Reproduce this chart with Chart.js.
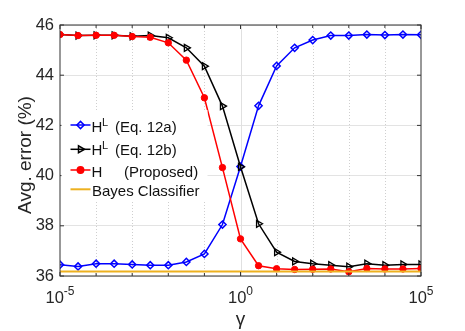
<!DOCTYPE html>
<html><head><meta charset="utf-8">
<script src="https://cdn.jsdelivr.net/npm/chart.js@4/dist/chart.umd.min.js"></script>
<style>html,body{margin:0;padding:0;background:#fff;}canvas{display:block;}</style>
</head><body>
<canvas id="c" width="465" height="331"></canvas>
<script>
// ---- data ----
const gamma = [1e-5, 3.1623e-5, 1e-4, 3.1623e-4, 1e-3, 3.1623e-3, 1e-2, 3.1623e-2, 1e-1, 3.1623e-1,
               1, 3.1623, 10, 31.623, 100, 316.23, 1e3, 3162.3, 1e4, 31623, 1e5];
const errEq12a = [36.45, 36.38, 36.49, 36.49, 36.46, 36.43, 36.43, 36.56, 36.88, 38.05,
                  40.36, 42.78, 44.37, 45.09, 45.40, 45.58, 45.58, 45.62, 45.60, 45.62, 45.61];
const errEq12b = [45.62, 45.58, 45.59, 45.59, 45.55, 45.58, 45.49, 45.09, 44.36, 42.77,
                  40.35, 38.08, 36.95, 36.58, 36.49, 36.43, 36.37, 36.49, 36.43, 36.46, 36.46];
const errProposed = [45.62, 45.58, 45.59, 45.59, 45.54, 45.51, 45.29, 44.60, 43.10, 40.32,
                     37.48, 36.41, 36.29, 36.26, 36.27, 36.28, 36.17, 36.30, 36.28, 36.28, 36.30];
const bayesGamma = [1e-5, 1e5];
const errBayes = [36.18, 36.18];
const yTickValues = [36, 38, 40, 42, 44, 46];
const xMajorTicks = [1e-5, 1, 1e5];
const xMajorExps = ['-5', '0', '5'];
const xMinorTicks = [1e-4, 1e-3, 1e-2, 1e-1, 1e1, 1e2, 1e3, 1e4];
const yTitle = 'Avg. error (%)';
const xTitle = 'γ';

const FONT = '"Liberation Sans", Arial, Helvetica, sans-serif';
const TXT = '#262626';
const pts = (xs, ys) => xs.map((v, i) => ({x: v, y: ys[i]}));

const decorations = {
  id: 'decorations',
  beforeDatasetsDraw(chart) {
    const {ctx, chartArea: a, scales: {x}} = chart;
    ctx.save();
    ctx.lineWidth = 1;
    xMinorTicks.forEach(v => {
      const px = Math.round(x.getPixelForValue(v)) + 0.5;
      ctx.strokeStyle = '#cfcfcf';
      ctx.setLineDash([1, 2]);
      ctx.beginPath(); ctx.moveTo(px, a.top); ctx.lineTo(px, a.bottom); ctx.stroke();
    });
    ctx.setLineDash([]);
    ctx.strokeStyle = '#e0e0e0';
    const p0 = Math.round(x.getPixelForValue(1)) + 0.5;
    ctx.beginPath(); ctx.moveTo(p0, a.top); ctx.lineTo(p0, a.bottom); ctx.stroke();
    ctx.restore();
  },
  afterDatasetsDraw(chart) {
    const {ctx, chartArea: a, scales: {x, y}} = chart;
    ctx.save();
    // axes box
    ctx.strokeStyle = '#333';
    ctx.lineWidth = 1;
    ctx.strokeRect(a.left, a.top, a.right - a.left, a.bottom - a.top);
    // inward ticks
    ctx.beginPath();
    yTickValues.forEach(v => {
      const py = y.getPixelForValue(v);
      ctx.moveTo(a.left, py); ctx.lineTo(a.left + 4, py);
      ctx.moveTo(a.right, py); ctx.lineTo(a.right - 4, py);
    });
    xMajorTicks.concat(xMinorTicks).forEach(v => {
      const px = x.getPixelForValue(v);
      const len = xMajorTicks.includes(v) ? 4 : 3;
      ctx.moveTo(px, a.bottom); ctx.lineTo(px, a.bottom - len);
      ctx.moveTo(px, a.top); ctx.lineTo(px, a.top + len);
    });
    ctx.stroke();

    // x tick labels 10^k
    ctx.fillStyle = TXT;
    ctx.textBaseline = 'alphabetic';
    ctx.textAlign = 'left';
    xMajorTicks.forEach((v, i) => {
      const px = x.getPixelForValue(v);
      ctx.font = '16.5px ' + FONT;
      const w1 = ctx.measureText('10').width;
      ctx.font = '12px ' + FONT;
      const w2 = ctx.measureText(xMajorExps[i]).width;
      const x0 = px - (w1 + w2) / 2;
      ctx.font = '16.5px ' + FONT;
      ctx.fillText('10', x0, 303);
      ctx.font = '12px ' + FONT;
      ctx.fillText(xMajorExps[i], x0 + w1, 294.5);
    });
    // axis titles
    ctx.font = '19px ' + FONT;
    ctx.textAlign = 'center';
    ctx.fillText(xTitle, (a.left + a.right) / 2, 325);
    ctx.save();
    ctx.translate(26, 155);
    ctx.rotate(-Math.PI / 2);
    ctx.textBaseline = 'middle';
    ctx.fillText(yTitle, 0, 0);
    ctx.restore();

    // legend
    ctx.fillStyle = '#fff';
    ctx.fillRect(a.left + 1.5, 110, 146, 92);
    const rows = [
      {ds: 0, ly: 125, base: 132.3, parts: [['H', 91.5, 15, 0], ['L', 102, 11, -6.5], ['(Eq. 12a)', 115, 15, 0]]},
      {ds: 1, ly: 149.3, base: 155.3, parts: [['H', 91.5, 15, 0], ['L', 102, 11, -6.5], ['(Eq. 12b)', 115, 15, 0]]},
      {ds: 2, ly: 170, base: 176.7, parts: [['H', 91.5, 15, 0], ['(Proposed)', 124, 15, 0]]},
      {ds: 3, ly: 189.3, base: 196, parts: [['Bayes Classifier', 92, 15, 0]]}
    ];
    rows.forEach(r => {
      const d = chart.data.datasets[r.ds];
      ctx.strokeStyle = d.borderColor;
      ctx.lineWidth = d.borderWidth;
      ctx.beginPath(); ctx.moveTo(70.5, r.ly); ctx.lineTo(90.5, r.ly); ctx.stroke();
      if (d.pointRadius > 0) {
        ctx.strokeStyle = d.pointBorderColor || d.borderColor;
        ctx.fillStyle = d.pointBackgroundColor;
        Chart.helpers.drawPoint(ctx, {pointStyle: d.pointStyle, radius: d.pointRadius,
          rotation: d.pointRotation || 0, borderWidth: d.pointBorderWidth}, 80.5, r.ly);
      }
      ctx.fillStyle = '#111';
      ctx.textAlign = 'left';
      ctx.textBaseline = 'alphabetic';
      r.parts.forEach(p => {
        ctx.font = p[2] + 'px ' + FONT;
        ctx.fillText(p[0], p[1], r.base + p[3]);
      });
    });
    ctx.restore();
  }
};

new Chart(document.getElementById('c'), {
  type: 'line',
  data: {
    datasets: [
      {label: 'H^L (Eq. 12a)', data: pts(gamma, errEq12a), borderColor: '#0000ff', borderWidth: 1.5,
       pointStyle: 'rectRot', pointRadius: 3.6, pointBorderWidth: 1.5, pointBackgroundColor: 'rgba(0,0,0,0)',
       pointBorderColor: '#0000ff', order: 3},
      {label: 'H^L (Eq. 12b)', data: pts(gamma, errEq12b), borderColor: '#000000', borderWidth: 1.5,
       pointStyle: 'triangle', pointRotation: 90, pointRadius: 4, pointBorderWidth: 1.3,
       pointBackgroundColor: 'rgba(0,0,0,0)', pointBorderColor: '#000000', order: 2},
      {label: 'H (Proposed)', data: pts(gamma, errProposed), borderColor: '#ff0000', borderWidth: 1.5,
       pointStyle: 'circle', pointRadius: 3.2, pointBorderWidth: 1, pointBackgroundColor: '#ff0000',
       pointBorderColor: '#ff0000', order: 1},
      {label: 'Bayes Classifier', data: pts(bayesGamma, errBayes), borderColor: '#EDB120', borderWidth: 2,
       pointRadius: 0, order: 0}
    ]
  },
  options: {
    responsive: false,
    animation: false,
    devicePixelRatio: 1,
    layout: {padding: {left: 0, right: 44, top: 25, bottom: 0}},
    plugins: {legend: {display: false}, tooltip: {enabled: false}},
    elements: {line: {tension: 0}},
    scales: {
      x: {
        type: 'logarithmic', min: 1e-5, max: 1e5,
        grid: {display: false}, border: {display: false},
        ticks: {display: false},
        afterFit(s) { s.height = 55; }
      },
      y: {
        type: 'linear', min: 36, max: 46,
        afterBuildTicks(s) { s.ticks = yTickValues.map(v => ({value: v})); },
        grid: {color: '#e3e3e3', lineWidth: 1, drawTicks: false},
        border: {display: false},
        ticks: {padding: 6, color: TXT, font: {family: FONT, size: 16.5}},
        afterFit(s) { s.width = 60; }
      }
    }
  },
  plugins: [decorations]
});
</script>
</body></html>
